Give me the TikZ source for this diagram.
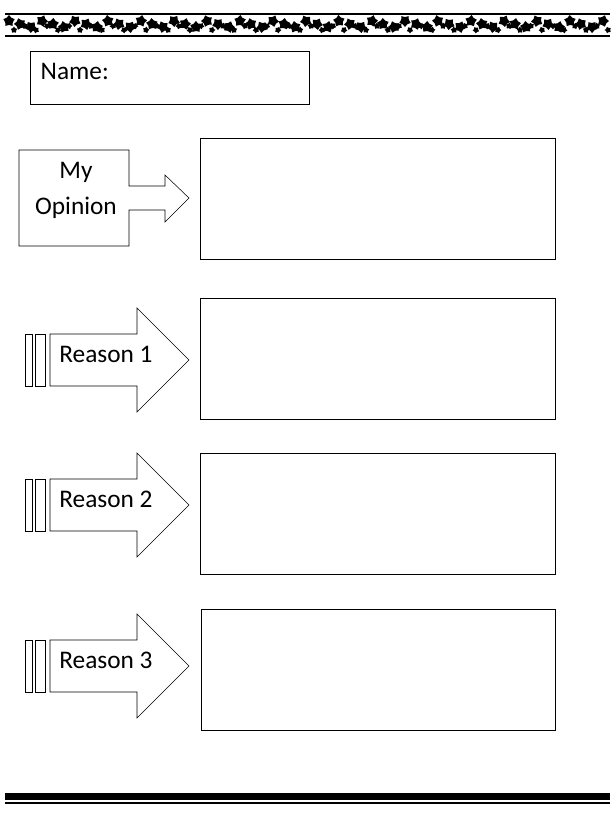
\documentclass[tikz,border=0pt]{standalone}
\usepackage{fontspec}
\setmainfont{Carlito}
\usetikzlibrary{shapes.geometric}
\tikzset{
  answerbox/.style={draw, thin},
  arrowshape/.style={draw, thin, fill=white},
  startag/.style={star, star points=5, fill=black, inner sep=0pt, minimum size=#1},
  labeltext/.style={font=\fontsize{19}{23}\selectfont}
}
\begin{document}
\begin{tikzpicture}[x=0.75pt,y=-0.75pt]
  \useasboundingbox (0,0) rectangle (615,814);
  % top star border
  \draw[line width=2.2pt] (5,14) -- (610,14);
  \draw[line width=2.2pt] (5,36) -- (610,36);
  \foreach \i in {0,...,54} {
    \pgfmathsetmacro{\sa}{21+mod(\i,3)*3}
    \pgfmathsetmacro{\sb}{30-mod(\i,2)*4}
    \node[startag=9pt, rotate=17*\i] (s\i) at ({9+11*\i},\sa) {};
    \node[startag=5pt, rotate=11*\i] (t\i) at ({14+11*\i},\sb) {};
  }
  % name
  \draw[answerbox] (30,51) rectangle (309,104);
  \node[labeltext, anchor=west] (name) at (36,71) {Name:};
  % opinion callout
  \draw[arrowshape] (19,150) -- (129,150) -- (129,186) -- (165,186) -- (165,175)
    -- (189,198) -- (165,222) -- (165,210) -- (129,210) -- (129,246) -- (19,246) -- cycle;
  \node[labeltext, align=center] (opinion) at (76,190) {My\\[4pt]Opinion};
  \draw[answerbox] (200,138) rectangle (555,259);
  % reason arrows
  \foreach \y/\n in {360/1,505/2,666/3} {
    \draw[arrowshape] (25,\y-26) rectangle (32,\y+26);
    \draw[arrowshape] (35,\y-26) rectangle (45,\y+26);
    \draw[arrowshape] (50,\y-26) -- (137,\y-26) -- (137,\y-52) -- (189,\y)
      -- (137,\y+52) -- (137,\y+26) -- (50,\y+26) -- cycle;
    \node[labeltext] (reason\n) at (106,\y-6) {Reason \n};
  }
  \draw[answerbox] (200,298) rectangle (555,419);
  \draw[answerbox] (200,453) rectangle (555,574);
  \draw[answerbox] (201,609) rectangle (555,730);
  % bottom border
  \fill (5,793) rectangle (610,800);
  \draw[line width=1pt] (5,803) -- (610,803);
\end{tikzpicture}
\end{document}
